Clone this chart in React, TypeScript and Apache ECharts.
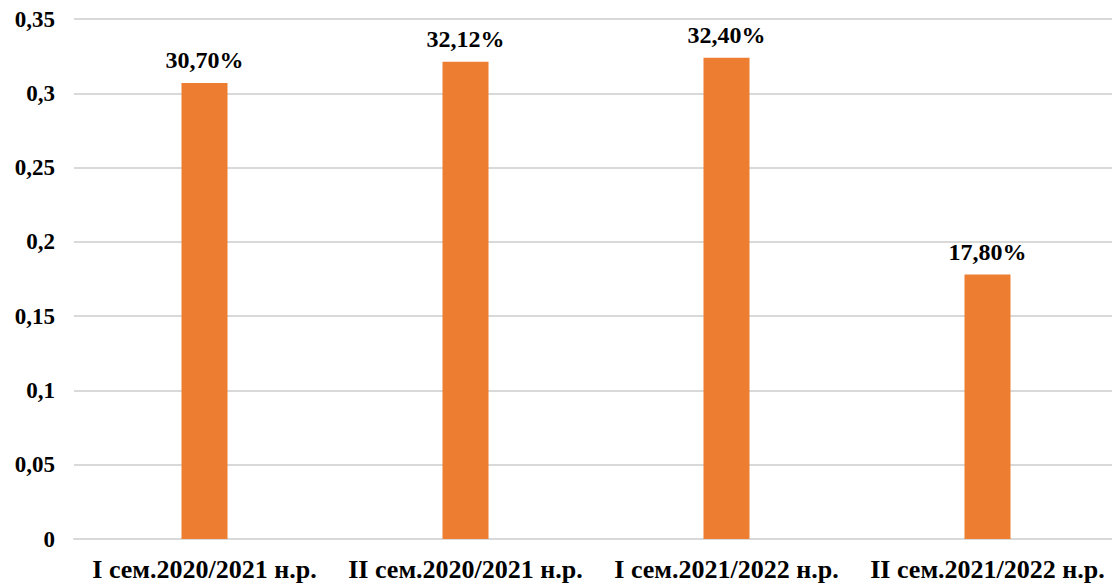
import React, { useEffect, useRef } from "react";
import * as echarts from "echarts";

const categories = [
  "I сем.2020/2021 н.р.",
  "II сем.2020/2021 н.р.",
  "I сем.2021/2022 н.р.",
  "II сем.2021/2022 н.р.",
];
const values = [0.307, 0.3212, 0.324, 0.178];
const yMin = 0;
const yMax = 0.35;
const yInterval = 0.05;

const FONT = "Liberation Serif";

export default function App() {
  const ref = useRef<HTMLDivElement>(null);
  useEffect(() => {
    if (!ref.current) return;
    const chart = echarts.init(ref.current, undefined, { renderer: "svg" });
    chart.setOption({
      animation: false,
      backgroundColor: "#ffffff",
      grid: { left: 74, right: 0, top: 19, bottom: 46, containLabel: false },
      xAxis: {
        type: "category",
        data: categories,
        axisLine: { show: true, lineStyle: { color: "#d9d9d9", width: 2 } },
        axisTick: { show: false },
        axisLabel: {
          interval: 0,
          hideOverlap: false,
          color: "#000",
          fontFamily: FONT,
          fontWeight: "bold",
          fontSize: 26,
          margin: 17,
        },
      },
      yAxis: {
        type: "value",
        min: yMin,
        max: yMax,
        interval: yInterval,
        axisLine: { show: false },
        axisTick: { show: false },
        splitLine: { lineStyle: { color: "#d9d9d9", width: 2 } },
        axisLabel: {
          color: "#000",
          fontFamily: FONT,
          fontWeight: "bold",
          fontSize: 23,
          margin: 19,
          formatter: (v: number) => (Math.round(v * 100) / 100).toString().replace(".", ","),
        },
      },
      series: [
        {
          type: "bar",
          data: values,
          barWidth: 46,
          itemStyle: { color: "#ED7D31" },
          label: {
            show: true,
            position: "top",
            distance: 11,
            color: "#000",
            fontFamily: FONT,
            fontWeight: "bold",
            fontSize: 24,
            formatter: (p: any) => (p.value * 100).toFixed(2).replace(".", ",") + "%",
          },
        },
      ],
    });
    return () => chart.dispose();
  }, []);
  return (
    <div style={{ position: "absolute", left: 0, top: 0, width: 1112, height: 585, overflow: "hidden" }}>
      <div ref={ref} style={{ width: 1118, height: 585 }} />
    </div>
  );
}
